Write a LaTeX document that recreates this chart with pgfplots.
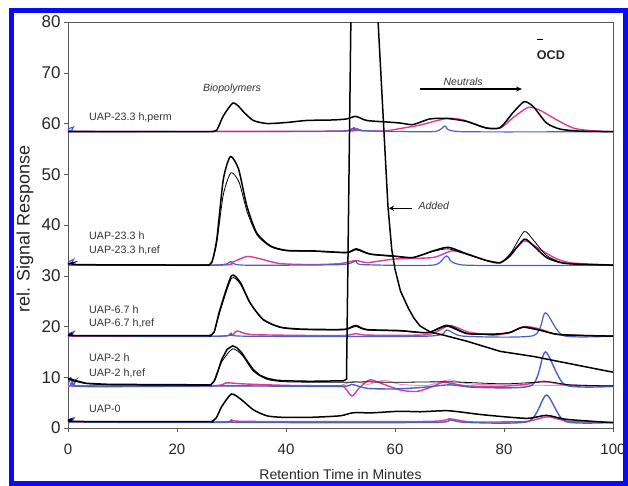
\documentclass[border=0pt]{standalone}
\usepackage{pgfplots}
\pgfplotsset{compat=1.18}
\usepackage{fontspec}
\setmainfont{Liberation Sans}
\usetikzlibrary{arrows.meta}
\definecolor{pk}{RGB}{222,60,150}
\definecolor{bl}{RGB}{75,95,200}
\definecolor{frameblue}{RGB}{10,10,245}
\begin{document}
\begin{tikzpicture}
\useasboundingbox (-68pt,-57pt) rectangle (560pt,428pt);
\begin{axis}[
  at={(0,0)}, anchor=south west,
  scale only axis, width=545pt, height=406pt,
  xmin=0, xmax=100, ymin=0, ymax=80,
  xtick={0,20,...,100}, ytick={0,10,...,80},
  xtick pos=bottom, ytick pos=left,
  tick align=outside, major tick length=4pt,
  tick style={gray!70!black, thin},
  axis line style={gray!70!black, thin},
  /pgf/number format/assume math mode=true,
  yticklabel style={font=\fontsize{17}{20}\selectfont, text=black!85},
  xticklabel style={font=\fontsize{15}{18}\selectfont, text=black!85, yshift=-8pt},
  xlabel={Retention Time in Minutes},
  ylabel={rel. Signal Response},
  xlabel style={at={(axis description cs:0.5,0)}, anchor=north, yshift=-41pt, inner sep=0pt, font=\fontsize{14}{16}\selectfont, text=black!85},
  ylabel style={at={(axis description cs:-0.079,0.49)}, anchor=center, inner sep=0pt, font=\fontsize{18}{20}\selectfont, text=black!85},
  every axis plot/.append style={smooth, tension=0.4},
]
% ---------- UAP-23.3 h,perm (baseline 58.4)
\addplot[pk, line width=1.4pt] coordinates {(0,58.4)(50,58.5)(52,58.9)(53,59.0)(54,58.6)(58,58.5)(60.9,59.0)(64.6,59.7)(69.5,61.0)(72.5,60.7)(76.1,59.3)(79.3,59.1)(81.7,61.2)(84.5,63.2)(86.6,62.6)(89.7,60.7)(92.7,59.1)(95.8,58.6)(100,58.4)};
\addplot[bl, line width=1.2pt] coordinates {(0,58.4)(0.6,58.5)(1,59.3)(1.4,58.5)(30,58.4)(50,58.5)(52.5,59.2)(53.5,58.6)(67,58.4)(69.2,59.5)(72,58.4)(100,58.4)};
\addplot[black, line width=1.5pt] coordinates {(0,58.4)(25,58.4)(26.2,58.4)(27.3,58.7)(28.5,61.5)(30.2,64.0)(31.3,63.4)(32.2,62.3)(34,60.6)(36.5,60.0)(40.1,60.2)(43.8,60.6)(48.6,60.7)(51.1,60.9)(52.8,61.4)(54.8,60.6)(58.5,60.3)(60.9,60.1)(63.3,59.8)(66.4,60.9)(69.5,61.0)(73.2,60.4)(76.8,59.1)(79.3,59.2)(81.7,62.2)(83.7,64.3)(85.4,63.3)(87.8,60.1)(90.3,58.9)(93.9,58.5)(100,58.4)};
% ---------- UAP-23.3 h (baseline 32.1)
\addplot[pk, line width=1.4pt] coordinates {(0,32.1)(28,32.1)(30,32.6)(32.8,33.8)(35,33.4)(38.9,32.4)(45,32.2)(50,32.4)(52.8,33.0)(55,32.6)(60,33.3)(67,33.6)(70.4,34.9)(73.2,34.3)(76.8,33.0)(79.3,32.5)(81.7,34.9)(83.9,36.9)(86.6,35.2)(89.7,33.3)(92.7,32.5)(100,32.1)};
\addplot[bl, line width=1.2pt] coordinates {(0,32.1)(0.6,32.2)(1,33.2)(1.4,32.2)(27,32.1)(29.8,32.8)(32,32.1)(50,32.2)(52.8,32.9)(54,32.2)(67,32.1)(69.5,33.9)(72.8,32.1)(100,32.1)};
\addplot[black, line width=0.8pt] coordinates {(0,32.3)(1,32.6)(2,32.2)(24.5,32.1)(25.6,32.1)(26.4,32.6)(27.3,36.5)(28.5,46.0)(29.9,50.3)(31.4,48.4)(32.9,42.5)(34.7,38.0)(37.2,35.7)(40.1,34.9)(45,34.8)(51.1,34.5)(52.9,35.1)(55.4,34.2)(59.7,33.8)(63.3,33.6)(67,34.8)(69.8,35.3)(73.2,34.2)(76.8,33.0)(79.3,32.6)(81.1,34.2)(83.7,38.7)(85.4,37.0)(87.8,34.0)(90.3,32.7)(93,32.3)(100,32.1)};
\addplot[black, line width=1.5pt] coordinates {(0,32.3)(1,32.6)(2,32.2)(24.5,32.1)(25.6,32.1)(26.4,32.7)(27.3,37.2)(28.5,49.0)(29.8,53.5)(31.3,51.0)(32.8,43.8)(34.6,38.5)(37.1,35.9)(40.1,35.0)(45,34.9)(51.1,34.6)(52.9,35.3)(55.4,34.3)(59.7,33.9)(63.3,33.6)(67,34.9)(69.8,35.6)(73.2,34.3)(76.8,33.0)(79.3,32.6)(81.1,33.9)(83.7,37.2)(85.4,35.9)(87.8,33.6)(90.3,32.6)(93,32.3)(100,32.1)};
% ---------- UAP-6.7 h (baseline 18.1)
\addplot[pk, line width=1.4pt] coordinates {(0,18.1)(28,18.1)(31,19.1)(34,18.4)(50,18.2)(52.8,18.6)(55,18.3)(66,18.4)(70,20.2)(73.5,18.9)(78,18.3)(81,18.8)(83.8,20.0)(86.6,19.5)(90,18.4)(100,18.1)};
\addplot[bl, line width=1.2pt] coordinates {(0,18.1)(0.7,18.3)(1.1,19.0)(1.5,18.2)(28,18.1)(30,18.8)(32,18.1)(66,18.1)(69.5,19.3)(72.5,18.1)(85.4,18.2)(87.6,22.7)(90.9,18.2)(100,18.1)};
\addplot[black, line width=0.8pt] coordinates {(0,18.2)(0.8,18.6)(1.5,18.2)(24.8,18.2)(25.9,18.2)(26.8,18.8)(27.9,23.0)(30,29.5)(31.6,28.4)(33.4,24.6)(35.8,21.3)(38.9,19.8)(42.6,19.4)(48.7,19.3)(51.1,19.4)(52.8,20.0)(54.8,19.3)(60.9,19.1)(66,18.8)(69.5,20.3)(73.2,18.7)(78,18.4)(81.1,18.9)(83.5,19.8)(86.6,19.2)(90.3,18.4)(100,18.1)};
\addplot[black, line width=1.5pt] coordinates {(0,18.2)(0.8,18.6)(1.5,18.2)(24.8,18.2)(25.9,18.2)(26.8,18.9)(27.9,23.4)(30,30.0)(31.6,28.7)(33.4,24.7)(35.8,21.4)(38.9,19.9)(42.6,19.5)(48.7,19.4)(51.1,19.5)(52.8,20.2)(54.8,19.4)(60.9,19.2)(66,18.8)(69.5,20.1)(73.2,18.6)(78,18.5)(81.1,18.8)(83.5,19.9)(86.6,19.3)(90.3,18.4)(100,18.1)};
% ---------- UAP-2 h (baseline 8.2)
\addplot[pk!60, line width=0.9pt] coordinates {(0,8.3)(48,8.3)(50,8.4)(52.5,9.2)(55,8.6)(58,9.4)(61,8.6)(66,8.4)(70,9.5)(75,8.6)(100,8.3)};
\addplot[pk, line width=1.4pt] coordinates {(0,8.3)(26,8.3)(29,8.9)(32,8.7)(40,8.4)(48,8.3)(50.5,8.2)(52.1,6.3)(53.5,8.0)(55.4,9.5)(57.2,8.9)(60.9,7.5)(64,7.2)(67,8.2)(68.9,9.0)(73.2,8.3)(79.3,8.2)(84,8.6)(87.2,9.2)(91.5,8.5)(100,8.2)};
\addplot[bl, line width=1.4pt] coordinates {(0,8.5)(0.5,9.9)(1,8.4)(1.5,9.5)(2,8.2)(30,8.3)(50,8.2)(52,8.6)(55,7.8)(60,7.7)(65,8.0)(70,8.5)(75,8.0)(85.1,8.4)(87.6,15.0)(91.2,8.5)(100,8.2)};
\addplot[black, line width=0.8pt] coordinates {(0,9.6)(3,8.8)(8,8.5)(24.8,8.4)(25.9,8.4)(27,9.5)(28.2,13.0)(30.2,15.6)(32,14.3)(34,11.2)(36.5,9.6)(40,9.1)(50,9.0)(55,9.1)(60,9.0)(70,9.1)(80,8.7)(88,9.1)(92,8.5)(100,8.3)};
\addplot[black, line width=1.5pt, sharp plot] coordinates {(0,9.8)(1.5,9.3)(3.4,8.8)(7.5,8.6)(26.2,8.5)(26.8,9.2)(27.5,11.2)(28.2,13.5)(29.2,15.5)(30.2,16.2)(31.0,15.8)(31.9,14.8)(33,13.0)(34,11.5)(35.2,10.4)(36.5,9.8)(38,9.45)(39.5,9.3)(44.4,9.2)(50.5,9.3)(51.1,9.6)(51.9,80)(52.3,92)(54.5,100)(56.6,92)(56.9,80)(58.7,43.8)(59.4,35.2)(60.0,31.3)(61.0,27.0)(62.5,23.5)(63.5,21.6)(64.6,20.1)(66.5,18.9)(68.9,18.3)(73.2,17.1)(79.3,15.1)(85.4,14.1)(91.5,12.8)(97.6,11.5)(100,11.0)};
% ---------- UAP-0 (baseline 1.2)
\addplot[pk, line width=1.4pt] coordinates {(0,1.2)(28,1.2)(30,1.6)(33,1.3)(66,1.3)(70,1.8)(74,1.2)(84,1.3)(88,2.2)(92,1.3)(100,1.1)};
\addplot[bl, line width=1.4pt] coordinates {(0,1.1)(0.7,1.2)(1.1,2.0)(1.5,1.2)(28,1.1)(30,1.4)(32,1.1)(67,1.1)(70,1.6)(73,1.1)(84.5,1.3)(87.8,6.5)(91.2,1.3)(100,1.1)};
\addplot[black, line width=1.5pt] coordinates {(0,1.3)(0.8,1.8)(1.4,1.3)(25.2,1.25)(26.3,1.25)(27.2,2.0)(28.2,4.2)(30,6.7)(31.9,5.5)(34,3.6)(36.5,2.4)(39.5,2.1)(44.4,2.1)(49.9,2.4)(52.3,3.0)(55.9,3.0)(60.9,3.3)(64.6,3.2)(69.8,3.4)(76.2,2.6)(84.2,1.9)(87.8,2.5)(91.5,1.7)(100,1.05)};
% ---------- labels
\begin{scope}[every node/.style={font=\fontsize{10.7}{12}\selectfont, text=black!80, anchor=west, inner sep=0pt}]
\node at (axis cs:3.85,61.2) {UAP-23.3 h,perm};
\node at (axis cs:3.85,37.9) {UAP-23.3 h};
\node at (axis cs:3.85,35.1) {UAP-23.3 h,ref};
\node at (axis cs:3.85,23.4) {UAP-6.7 h};
\node at (axis cs:3.85,20.7) {UAP-6.7 h,ref};
\node at (axis cs:3.85,13.8) {UAP-2 h};
\node at (axis cs:3.85,10.8) {UAP-2 h,ref};
\node at (axis cs:3.85,3.7) {UAP-0};
\end{scope}
\node[font=\itshape\fontsize{10.5}{12}\selectfont, text=black!80] at (axis cs:30.1,66.9) {Biopolymers};
\node[font=\itshape\fontsize{10.5}{12}\selectfont, text=black!80] at (axis cs:72.5,68.3) {Neutrals};
\draw[black, line width=1.2pt, -{Stealth[length=6pt,width=5pt]}] (axis cs:64.6,66.8) -- (axis cs:83.3,66.8);
\node[font=\bfseries\fontsize{12.6}{14}\selectfont, text=black!85] at (axis cs:88.6,73.5) {OCD};
\draw[black, line width=1.1pt] (axis cs:86.1,76.5) -- (axis cs:87.2,76.5);
\node[font=\itshape\fontsize{10.5}{12}\selectfont, text=black!80, anchor=west, inner sep=0pt] at (axis cs:64.3,43.8) {Added};
\draw[black, line width=1.2pt, -{Stealth[length=5pt,width=5pt]}] (axis cs:63.1,43.3) -- (axis cs:58.9,43.3);
\end{axis}
\draw[frameblue, line width=5pt] (-56.3pt,-55pt) rectangle (557pt,417.2pt);
\end{tikzpicture}
\end{document}
